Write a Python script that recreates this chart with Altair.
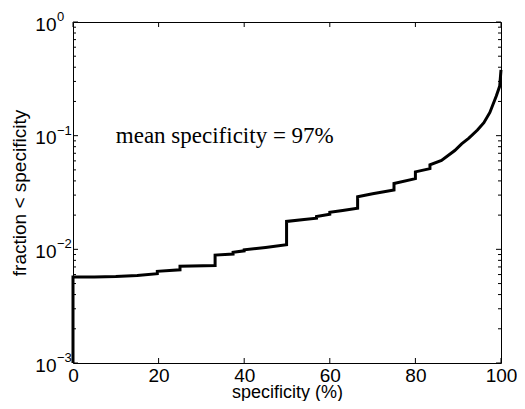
import altair as alt
import pandas as pd

# curve (specificity %, fraction < specificity)
spec = [0, 0, 5, 10, 15, 19.7, 19.7, 25, 25, 33.2, 33.2, 37.4, 37.4, 40, 40, 45, 49.9,
        49.9, 54, 56.9, 56.9, 60, 60, 63, 66.5, 66.5, 70, 75, 75, 80, 80, 83.4, 83.4,
        86.1, 89.2, 90.8, 92.5, 94.5, 96, 97.4, 98.9, 99.7, 100]
frac = [0.001, 0.0057, 0.00572, 0.00578, 0.0059, 0.0061, 0.0064, 0.0066, 0.0071, 0.0072,
        0.0089, 0.0091, 0.0094, 0.0097, 0.0099, 0.0104, 0.0110,
        0.0176, 0.0183, 0.0188, 0.0194, 0.0204, 0.0212, 0.0220, 0.0230, 0.0290, 0.0308,
        0.0332, 0.0379, 0.0419, 0.0480, 0.0513, 0.0555,
        0.0605, 0.0740, 0.0847, 0.095, 0.112, 0.13, 0.16, 0.223, 0.273, 0.38]

x_ticks = [0, 20, 40, 60, 80, 100]
y_major = [0.001, 0.01, 0.1, 1]
y_exp = ["\u22123", "\u22122", "\u22121", "0"]
y_minor = [m * d for d in [0.001, 0.01, 0.1] for m in range(2, 10)]

W, H = 428, 341

df = pd.DataFrame({"spec": spec, "frac": frac})
xs = alt.Scale(domain=[0, 100], nice=False)
ys = alt.Scale(type="log", domain=[0.001, 1], nice=False)
xax = alt.Axis(values=x_ticks, labelBaseline="middle", labelPadding=12,
               titleY=34, titleX=W / 2, titleBaseline="alphabetic", titleFontSize=18)
yax = alt.Axis(values=y_major, labelExpr="'10'", labelPadding=17,
               labelOffset=2, titleX=-54, titleY=H / 2, titleAngle=270,
               titleAlign="center", titleBaseline="middle")
XT = "specificity (%)"
YT = "fraction < specificity"


def X():
    return alt.X("spec:Q", scale=xs, axis=xax, title=XT)


def Y():
    return alt.Y("frac:Q", scale=ys, axis=yax, title=YT)


line = alt.Chart(df).mark_line(color="black", strokeWidth=3, strokeJoin="miter").encode(
    x=X(), y=Y(), order=alt.Order("idx:Q"),
).transform_window(idx="row_number()")

xt = pd.DataFrame({"spec": x_ticks})
bottom_ticks = alt.Chart(xt).mark_rule(color="black", strokeWidth=1).encode(
    x=X(), y=alt.value(H), y2=alt.value(H - 5))
top_ticks = alt.Chart(xt).mark_rule(color="black", strokeWidth=1).encode(
    x=X(), y=alt.value(0), y2=alt.value(5))

ymaj = pd.DataFrame({"frac": y_major, "e": y_exp})
ymin = pd.DataFrame({"frac": y_minor})
left_major = alt.Chart(ymaj).mark_rule(color="black", strokeWidth=1).encode(
    y=Y(), x=alt.value(0), x2=alt.value(5))
right_major = alt.Chart(ymaj).mark_rule(color="black", strokeWidth=1).encode(
    y=Y(), x=alt.value(W), x2=alt.value(W - 5))
left_minor = alt.Chart(ymin).mark_rule(color="black", strokeWidth=1).encode(
    y=Y(), x=alt.value(0), x2=alt.value(3))
right_minor = alt.Chart(ymin).mark_rule(color="black", strokeWidth=1).encode(
    y=Y(), x=alt.value(W), x2=alt.value(W - 3))

exps = alt.Chart(ymaj).mark_text(align="left", baseline="middle", dy=-5, fontSize=13,
                                 font="Liberation Sans", color="black").encode(
    y=Y(), x=alt.value(-16), text="e:N")

note = alt.Chart(pd.DataFrame({"spec": [10], "frac": [0.1], "t": ["mean specificity = 97%"]})).mark_text(
    align="left", baseline="middle", fontSize=23, font="Liberation Serif", color="black").encode(
    x=X(), y=Y(), text="t:N")

chart = alt.layer(line, bottom_ticks, top_ticks, left_major, right_major, left_minor,
                  right_minor, exps, note).properties(
    width=W, height=H, autosize=alt.AutoSizeParams(type="none"),
    padding={"left": 65, "top": 14, "right": 16, "bottom": 38},
    background="white",
).configure_view(stroke="black", strokeWidth=1).configure_axis(
    domain=False, ticks=False, tickSize=0, grid=False, labelFont="Liberation Sans",
    labelFontSize=19, labelColor="black", titleFont="Liberation Sans", titleFontSize=19,
    titleFontWeight="normal", titleColor="black", labelFlush=False, labelOverlap=False)

chart.save("out.html", embed_options={"renderer": "svg", "actions": False})
